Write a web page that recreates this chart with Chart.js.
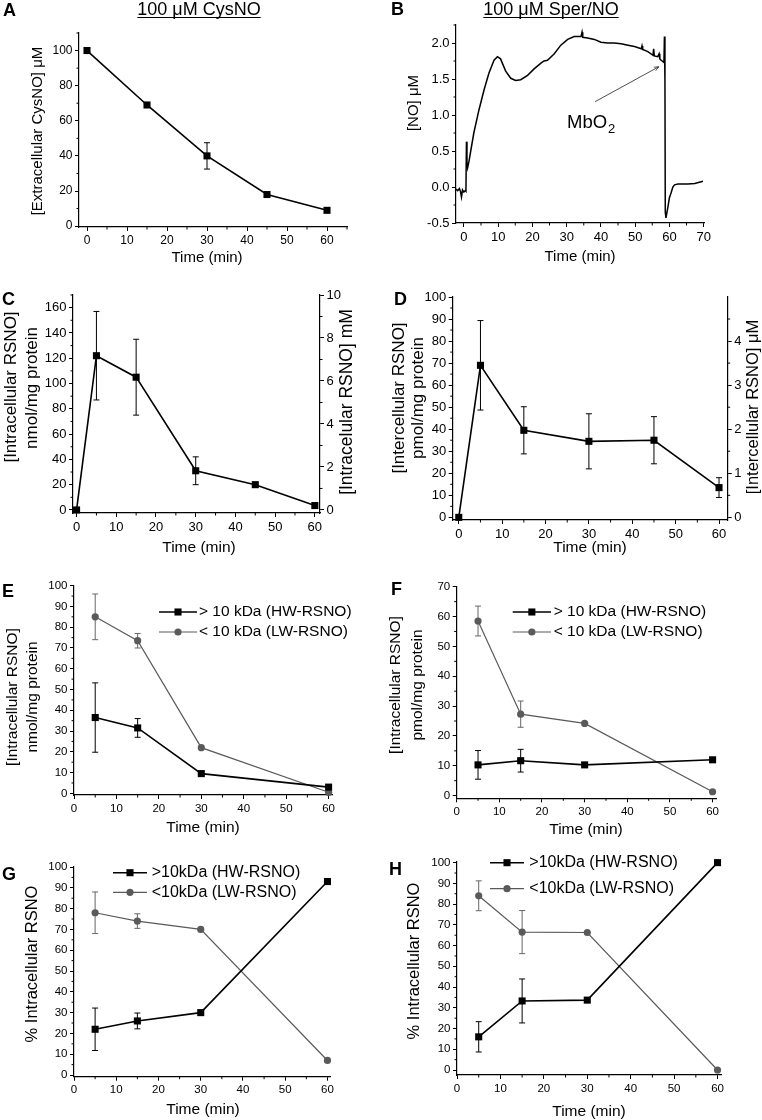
<!DOCTYPE html>
<html><head><meta charset="utf-8">
<script src="https://cdn.jsdelivr.net/npm/chart.js@4.4.1/dist/chart.umd.min.js"></script>
<style>
html,body{margin:0;padding:0;background:#fff;}
#wrap{position:relative;width:762px;height:1120px;overflow:hidden;background:#fff;}
canvas{position:absolute;}
</style></head><body><div id="wrap"></div>
<script>
// ================= DATA =================
// Panel A – extracellular CysNO
const timeA = [0, 15, 30, 45, 60];
const cysnoExtra = [100, 69, 40, 18, 9];
const cysnoExtraErr = [0, 0, 7.5, 0, 0];

// Panel B – NO electrode trace (Sper/NO)
const timeB = [-2.3,-1.8,-1.3,-1.0,-0.7,-0.4,0.0,0.4,0.6,0.75,0.9,1.1,1.5,2.0,2.9,4.4,5.9,7.3,8.8,9.8,10.7,12.2,13.7,15.1,16.6,18.6,20.5,22.5,23.4,24.4,26.4,28.3,30.3,32.2,34.2,34.5,34.7,36.1,38.1,40.0,42.0,43.9,45.9,47.9,49.8,51.8,52.0,52.2,53.7,55.2,55.4,55.6,56.6,57.0,57.2,57.6,58.4,58.55,58.7,58.8,59.0,59.3,59.6,60.0,60.5,61.0,61.5,62.5,63.5,65.4,67.4,69.8];
const noConc = [-0.03,-0.05,-0.02,-0.06,-0.14,-0.04,-0.07,-0.05,-0.06,0.63,0.35,0.27,0.36,0.5,0.75,1.07,1.35,1.58,1.76,1.81,1.78,1.61,1.51,1.48,1.49,1.55,1.64,1.72,1.75,1.76,1.85,1.97,2.05,2.09,2.09,2.15,2.08,2.07,2.05,2.01,2.0,2.0,1.99,1.97,1.95,1.92,1.96,1.91,1.88,1.83,1.92,1.82,1.81,1.85,1.78,1.76,1.73,2.09,1.45,-0.35,-0.43,-0.35,-0.27,-0.15,-0.08,0.0,0.03,0.04,0.04,0.04,0.05,0.08];

// Panel C – intracellular RSNO (CysNO)
const timeC = [0, 5, 15, 30, 45, 60];
const rsnoC = [0, 122, 105, 31, 20, 3.5];
const rsnoCErr = [0, 35, 30, 11, 0, 0];

// Panel D – intercellular RSNO (Sper/NO)
const timeD = [0, 5, 15, 30, 45, 60];
const rsnoD = [0, 69, 39.5, 34.5, 35, 13.5];
const rsnoDErr = [0, 20.3, 10.7, 12.5, 10.7, 4.5];

// Panels E–H – fractions
const timeFrac = [5, 15, 30, 60];
const hwE = [36.5, 31.5, 9.5, 3];      const hwEErr = [16.7, 4.5, 0, 0];
const lwE = [85, 73.5, 22, 0.5];       const lwEErr = [11, 3.5, 0, 0];
const hwF = [10.3, 11.7, 10.3, 12];    const hwFErr = [4.8, 3.8, 0, 0];
const lwF = [58.5, 27.3, 24.2, 1.3];   const lwFErr = [5, 4.4, 0, 0];
const hwG = [22, 26, 30, 93];          const hwGErr = [10.2, 3.8, 0, 0];
const lwG = [78, 74, 70, 7];           const lwGErr = [10, 3.5, 0, 0];
const hwH = [16, 33.3, 33.7, 100];     const hwHErr = [7.3, 10.6, 0, 0];
const lwH = [84, 66.5, 66.3, 0];       const lwHErr = [7.2, 10.4, 0, 0];

// Tick labels
const timeTicks = [0, 10, 20, 30, 40, 50, 60];
const timeTicksB = [0, 10, 20, 30, 40, 50, 60, 70];
const ticksAy = [0, 20, 40, 60, 80, 100];
const ticksBy = [-0.5, 0.0, 0.5, 1.0, 1.5, 2.0];
const ticksCy = [0, 20, 40, 60, 80, 100, 120, 140, 160];
const ticksCy2 = [0, 2, 4, 6, 8, 10];
const ticksDy = [0, 10, 20, 30, 40, 50, 60, 70, 80, 90, 100];
const ticksDy2 = [0, 1, 2, 3, 4];
const ticksFy = [0, 10, 20, 30, 40, 50, 60, 70];
const ticksPct = [0, 10, 20, 30, 40, 50, 60, 70, 80, 90, 100];

// Legend labels
const legendEF = ['> 10 kDa (HW-RSNO)', '< 10 kDa (LW-RSNO)'];
const legendGH = ['>10kDa (HW-RSNO)', '<10kDa (LW-RSNO)'];

// ================= DRAWING =================
const FONT = '"Liberation Sans", Arial, Helvetica, sans-serif';
const GRAY = '#5a5a5a';
const wrap = document.getElementById('wrap');

function minorValues(ticks, step, min, max) {
  const out = [];
  const first = ticks[0];
  for (let v = first - step; v >= min - 1e-9; v -= 2 * step) out.push(v);
  for (let v = first + step; v <= max + 1e-9; v += 2 * step) {
    if (!ticks.some(t => Math.abs(t - v) < 1e-9)) out.push(v);
  }
  return out;
}

function makePanel(p) {
  const [cx, cy, cw, ch] = p.rect;
  const [L, T, R, B] = p.area;
  const cv = document.createElement('canvas');
  cv.width = cw; cv.height = ch;
  Object.assign(cv.style, {left: cx + 'px', top: cy + 'px', width: cw + 'px', height: ch + 'px'});
  wrap.appendChild(cv);

  const axis = (o, pos, size) => ({
    type: 'linear', position: pos, min: o.min, max: o.max,
    grid: {display: true, drawOnChartArea: false, drawTicks: true, tickLength: 4, color: '#000', lineWidth: 1},
    border: {display: true, color: '#000', width: 1.2},
    ticks: {color: '#000', padding: 2.5, autoSkip: false, maxRotation: 0, minRotation: 0,
      font: {family: FONT, size: p.tickSize}, callback: o.fmt || (v => String(v))},
    afterBuildTicks: s => { s.ticks = o.ticks.map(v => ({value: v})); },
    afterFit: s => { if (s.isHorizontal()) s.height = size; else s.width = size; }
  });
  const scales = {x: axis(p.x, 'bottom', cy + ch - B), y: axis(p.y, 'left', L - cx)};
  if (p.y2) scales.y2 = axis(p.y2, 'right', cx + cw - R);

  const datasets = p.series.map(s => ({
    data: s.x.map((xv, i) => ({x: xv, y: s.y[i]})),
    showLine: true, borderColor: s.color, backgroundColor: s.color, borderWidth: s.lw,
    pointStyle: s.marker || 'circle', pointRadius: s.r, pointHoverRadius: s.r, pointBorderWidth: 0,
    tension: 0, clip: false, xAxisID: 'x', yAxisID: 'y'
  }));

  const toC = (x, y) => [x - cx, y - cy];

  const plugin = {
    id: 'panel_' + p.id,
    beforeDatasetsDraw(chart) {
      const ctx = chart.ctx, xs = chart.scales.x, ys = chart.scales.y;
      p.series.forEach(s => {
        if (!s.err) return;
        ctx.save();
        ctx.strokeStyle = s.errColor || s.color; ctx.lineWidth = 1;
        s.x.forEach((xv, i) => {
          const e = s.err[i]; if (!e) return;
          const px = xs.getPixelForValue(xv);
          const p1 = ys.getPixelForValue(s.y[i] + e), p2 = ys.getPixelForValue(s.y[i] - e);
          ctx.beginPath();
          ctx.moveTo(px, p1); ctx.lineTo(px, p2);
          ctx.moveTo(px - 3, p1); ctx.lineTo(px + 3, p1);
          ctx.moveTo(px - 3, p2); ctx.lineTo(px + 3, p2);
          ctx.stroke();
        });
        ctx.restore();
      });
    },
    afterDraw(chart) {
      const ctx = chart.ctx;
      ctx.save();
      ctx.strokeStyle = '#000'; ctx.lineWidth = 1;
      // minor ticks
      [['x', p.x], ['y', p.y], ['y2', p.y2]].forEach(([id, o]) => {
        if (!o) return;
        const s = chart.scales[id];
        minorValues(o.ticks, o.minor, o.min, o.max).forEach(v => {
          const px = s.getPixelForValue(v);
          ctx.beginPath();
          if (id === 'x') { ctx.moveTo(px, s.top); ctx.lineTo(px, s.top + 2.5); }
          else if (id === 'y') { ctx.moveTo(s.right, px); ctx.lineTo(s.right - 2.5, px); }
          else { ctx.moveTo(s.left, px); ctx.lineTo(s.left + 2.5, px); }
          ctx.stroke();
        });
      });
      // arrow annotation (data coordinates)
      if (p.arrow) {
        const xs = chart.scales.x, ys = chart.scales.y;
        const x1 = xs.getPixelForValue(p.arrow.from[0]), y1 = ys.getPixelForValue(p.arrow.from[1]);
        const x2 = xs.getPixelForValue(p.arrow.to[0]), y2 = ys.getPixelForValue(p.arrow.to[1]);
        ctx.lineWidth = 0.8; ctx.strokeStyle = '#222';
        ctx.beginPath(); ctx.moveTo(x1, y1); ctx.lineTo(x2, y2); ctx.stroke();
        const a = Math.atan2(y2 - y1, x2 - x1), h = 5;
        ctx.beginPath();
        ctx.moveTo(x2 - h * Math.cos(a - 0.4), y2 - h * Math.sin(a - 0.4));
        ctx.lineTo(x2, y2);
        ctx.lineTo(x2 - h * Math.cos(a + 0.4), y2 - h * Math.sin(a + 0.4));
        ctx.stroke();
      }
      // legend
      if (p.legend) {
        const lg = p.legend;
        p.series.forEach((s, i) => {
          const [x0, y] = toC(lg.x0, lg.rows[i]);
          const x1 = lg.x1 - cx, xm = (x0 + x1) / 2;
          ctx.strokeStyle = s.color; ctx.lineWidth = s.lw; ctx.fillStyle = s.color;
          ctx.beginPath(); ctx.moveTo(x0, y); ctx.lineTo(x1, y); ctx.stroke();
          if (s.marker === 'rect') { const h2 = s.r * Math.SQRT1_2; ctx.fillRect(xm - h2, y - h2, 2 * h2, 2 * h2); }
          else { ctx.beginPath(); ctx.arc(xm, y, s.r, 0, Math.PI * 2); ctx.fill(); }
          ctx.fillStyle = '#000';
          ctx.font = lg.size + 'px ' + FONT; ctx.textAlign = 'left'; ctx.textBaseline = 'middle';
          ctx.fillText(lg.labels[i], lg.xt - cx, y);
        });
      }
      // texts
      (p.texts || []).forEach(t => {
        const [x, y] = toC(t.x, t.y);
        ctx.save();
        ctx.fillStyle = '#000';
        ctx.font = (t.bold ? 'bold ' : '') + t.size + 'px ' + FONT;
        ctx.textAlign = t.align || 'center';
        ctx.textBaseline = t.baseline || 'middle';
        ctx.translate(x, y);
        if (t.rot) ctx.rotate(t.rot * Math.PI / 180);
        ctx.fillText(t.t, 0, 0);
        if (t.underline) {
          const w = ctx.measureText(t.t).width;
          const xl = ctx.textAlign === 'center' ? -w / 2 : 0;
          ctx.strokeStyle = '#000'; ctx.lineWidth = 1.2;
          ctx.beginPath(); ctx.moveTo(xl, 2.5); ctx.lineTo(xl + w, 2.5); ctx.stroke();
        }
        ctx.restore();
      });
      ctx.restore();
    }
  };

  new Chart(cv, {
    type: 'scatter',
    data: {datasets},
    options: {
      responsive: false, animation: false, devicePixelRatio: 1,
      layout: {padding: {left: 0, bottom: 0, top: T - cy, right: p.y2 ? 0 : (cx + cw - R)}},
      plugins: {legend: {display: false}, tooltip: {enabled: false}},
      scales
    },
    plugins: [plugin]
  });
}

const blackSq = (x, y, err) => ({x, y, err, color: '#000', lw: 1.6, marker: 'rect', r: 5});
const grayCirc = (x, y, err) => ({x, y, err, color: GRAY, errColor: '#666', lw: 1.2, marker: 'circle', r: 3.6});

// Panel A
makePanel({id: 'A', rect: [0, 0, 381, 276], area: [79, 33, 347, 227], tickSize: 12,
  x: {min: -2, max: 65, ticks: timeTicks, minor: 5},
  y: {min: -0.5, max: 110, ticks: ticksAy, minor: 10},
  series: [blackSq(timeA, cysnoExtra, cysnoExtraErr)],
  texts: [
    {t: 'A', x: 3, y: 16, size: 18, bold: true, align: 'left', baseline: 'alphabetic'},
    {t: '100 μM CysNO', x: 199, y: 15, size: 18, underline: true, baseline: 'alphabetic'},
    {t: '[Extracellular CysNO] μM', x: 38, y: 131, size: 15, rot: -90},
    {t: 'Time (min)', x: 207, y: 258, size: 15}
  ]});

// Panel B
makePanel({id: 'B', rect: [381, 0, 381, 276], area: [456, 25, 704, 223], tickSize: 13,
  x: {min: -2.3, max: 70.1, ticks: timeTicksB, minor: 5},
  y: {min: -0.5, max: 2.25, ticks: ticksBy, minor: 0.25, fmt: v => v.toFixed(1)},
  series: [{x: timeB, y: noConc, color: '#000', lw: 1.5, marker: 'circle', r: 0}],
  arrow: {from: [38.3, 1.185], to: [56.9, 1.67]},
  texts: [
    {t: 'B', x: 391, y: 15, size: 18, bold: true, align: 'left', baseline: 'alphabetic'},
    {t: '100 μM Sper/NO', x: 551, y: 15, size: 18, underline: true, baseline: 'alphabetic'},
    {t: '[NO] μM', x: 414, y: 103, size: 15, rot: -90},
    {t: 'Time (min)', x: 580, y: 257, size: 15},
    {t: 'MbO', x: 567, y: 128, size: 18.5, align: 'left', baseline: 'alphabetic'},
    {t: '2', x: 608, y: 133, size: 13, align: 'left', baseline: 'alphabetic'}
  ]});

// Panel C
makePanel({id: 'C', rect: [0, 276, 381, 282], area: [73, 295, 320, 513], tickSize: 13,
  x: {min: -0.9, max: 61.3, ticks: timeTicks, minor: 5},
  y: {min: -2.4, max: 170, ticks: ticksCy, minor: 10},
  y2: {min: -2.4 / 17, max: 10, ticks: ticksCy2, minor: 1},
  series: [blackSq(timeC, rsnoC, rsnoCErr)],
  texts: [
    {t: 'C', x: 2, y: 305, size: 18, bold: true, align: 'left', baseline: 'alphabetic'},
    {t: '[Intracellular RSNO]', x: 11, y: 387, size: 17, rot: -90},
    {t: 'nmol/mg protein', x: 32, y: 388, size: 17, rot: -90},
    {t: '[Intracelular RSNO] mM', x: 347, y: 402, size: 17.5, rot: -90},
    {t: 'Time (min)', x: 199, y: 548, size: 15.5}
  ]});

// Panel D
makePanel({id: 'D', rect: [381, 276, 381, 282], area: [452.7, 297, 727.7, 520], tickSize: 13,
  x: {min: -1.4, max: 62, ticks: timeTicks, minor: 5},
  y: {min: -1.2, max: 100, ticks: ticksDy, minor: 5},
  y2: {min: -0.06, max: 5.0, ticks: ticksDy2, minor: 0.5},
  series: [blackSq(timeD, rsnoD, rsnoDErr)],
  texts: [
    {t: 'D', x: 394, y: 305, size: 18, bold: true, align: 'left', baseline: 'alphabetic'},
    {t: '[Intercellular RSNO]', x: 399, y: 398, size: 17, rot: -90},
    {t: 'pmol/mg protein', x: 418, y: 398, size: 17, rot: -90},
    {t: '[Intercellular RSNO] μM', x: 753, y: 407, size: 16.5, rot: -90},
    {t: 'Time (min)', x: 590, y: 548, size: 15.5}
  ]});

// Panel E
makePanel({id: 'E', rect: [0, 558, 381, 280], area: [74, 585.7, 332, 795], tickSize: 11.5,
  x: {min: 0, max: 60.8, ticks: timeTicks, minor: 5},
  y: {min: -0.8, max: 100, ticks: ticksPct, minor: 5},
  series: [blackSq(timeFrac, hwE, hwEErr), grayCirc(timeFrac, lwE, lwEErr)],
  legend: {x0: 159, x1: 197, xt: 199, rows: [612, 632], size: 15.5, labels: legendEF},
  texts: [
    {t: 'E', x: 2, y: 597, size: 18, bold: true, align: 'left', baseline: 'alphabetic'},
    {t: '[Intracellular RSNO]', x: 13, y: 697, size: 15.5, rot: -90},
    {t: 'nmol/mg protein', x: 33, y: 697, size: 15.5, rot: -90},
    {t: 'Time (min)', x: 203, y: 828, size: 15.5}
  ]});

// Panel F
makePanel({id: 'F', rect: [381, 558, 381, 280], area: [456.7, 586.7, 716, 798.3], tickSize: 11.5,
  x: {min: 0, max: 60.8, ticks: timeTicks, minor: 5},
  y: {min: -0.9, max: 70, ticks: ticksFy, minor: 5},
  series: [blackSq(timeFrac, hwF, hwFErr), grayCirc(timeFrac, lwF, lwFErr)],
  legend: {x0: 512.7, x1: 551, xt: 553.7, rows: [612, 632], size: 15.5, labels: legendEF},
  texts: [
    {t: 'F', x: 391, y: 595, size: 18, bold: true, align: 'left', baseline: 'alphabetic'},
    {t: '[Intracellular RSNO]', x: 396, y: 685, size: 15.5, rot: -90},
    {t: 'pmol/mg protein', x: 418, y: 685, size: 15.5, rot: -90},
    {t: 'Time (min)', x: 586, y: 830, size: 15.5}
  ]});

// Panel G
makePanel({id: 'G', rect: [0, 838, 381, 282], area: [74, 867, 330, 1076.7], tickSize: 11.5,
  x: {min: 0, max: 60.6, ticks: timeTicks, minor: 5},
  y: {min: -0.8, max: 100, ticks: ticksPct, minor: 5},
  series: [blackSq(timeFrac, hwG, hwGErr), grayCirc(timeFrac, lwG, lwGErr)],
  legend: {x0: 113, x1: 147, xt: 151.7, rows: [872.7, 892.3], size: 16, labels: legendGH},
  texts: [
    {t: 'G', x: 2, y: 880, size: 18, bold: true, align: 'left', baseline: 'alphabetic'},
    {t: '% Intracellular RSNO', x: 32, y: 964, size: 16.5, rot: -90},
    {t: 'Time (min)', x: 203, y: 1110, size: 15.5}
  ]});

// Panel H
makePanel({id: 'H', rect: [381, 838, 381, 282], area: [457, 862, 721, 1075], tickSize: 11.5,
  x: {min: 0, max: 60.8, ticks: timeTicks, minor: 5},
  y: {min: -2.4, max: 100.3, ticks: ticksPct, minor: 5},
  series: [blackSq(timeFrac, hwH, hwHErr), grayCirc(timeFrac, lwH, lwHErr)],
  legend: {x0: 490, x1: 524, xt: 529.3, rows: [862.7, 888.7], size: 16, labels: legendGH},
  texts: [
    {t: 'H', x: 389, y: 875, size: 18, bold: true, align: 'left', baseline: 'alphabetic'},
    {t: '% Intracellular RSNO', x: 414, y: 961, size: 16.5, rot: -90},
    {t: 'Time (min)', x: 589, y: 1112, size: 15.5}
  ]});
</script>
</body></html>
